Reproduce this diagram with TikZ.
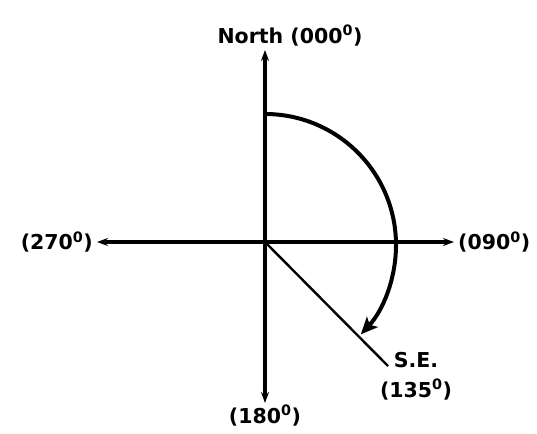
\documentclass[tikz,border=0pt]{standalone}
\usepackage{fontspec}
\setmainfont{DejaVu Sans}
\usetikzlibrary{arrows.meta, positioning}
\tikzset{
  axisline/.style={line width=3.2pt, {Stealth[length=11pt,width=8pt]}-{Stealth[length=11pt,width=8pt]}},
  sweep/.style={line width=4pt, -{Stealth[length=17pt,width=15pt,inset=4pt]}},
  bearing/.style={font=\bfseries\fontsize{20.5}{30}\selectfont, inner sep=2pt},
}
\begin{document}
\begin{tikzpicture}[x=1pt, y=-1pt]
  \useasboundingbox (0,0) rectangle (537,433);
  % axes
  \coordinate (O) at (265,242);
  \coordinate (N) at (265,50);
  \coordinate (S) at (265,403);
  \coordinate (W) at (97,242);
  \coordinate (E) at (454,242);
  \coordinate (SE) at (388,366);
  \draw[axisline] (S) -- (N);
  \draw[axisline] (W) -- (E);
  \draw[line width=2.4pt] (O) -- (SE);
  % clockwise sweep from north to south-east
  \draw[sweep] (O) ++(0,-128) arc[start angle=-90, end angle=43, radius=131];
  % labels
  \node[bearing, anchor=south] (north) at (290,48) {North (000\textsuperscript{0})};
  \node[bearing, left=2pt of W] (west) {(270\textsuperscript{0})};
  \node[bearing, right=2pt of E] (east) {(090\textsuperscript{0})};
  \node[bearing, below=0pt of S] (south) {(180\textsuperscript{0})};
  \node[bearing, align=center] (se) at (416,376) {S.E.\\(135\textsuperscript{0})};
\end{tikzpicture}
\end{document}
